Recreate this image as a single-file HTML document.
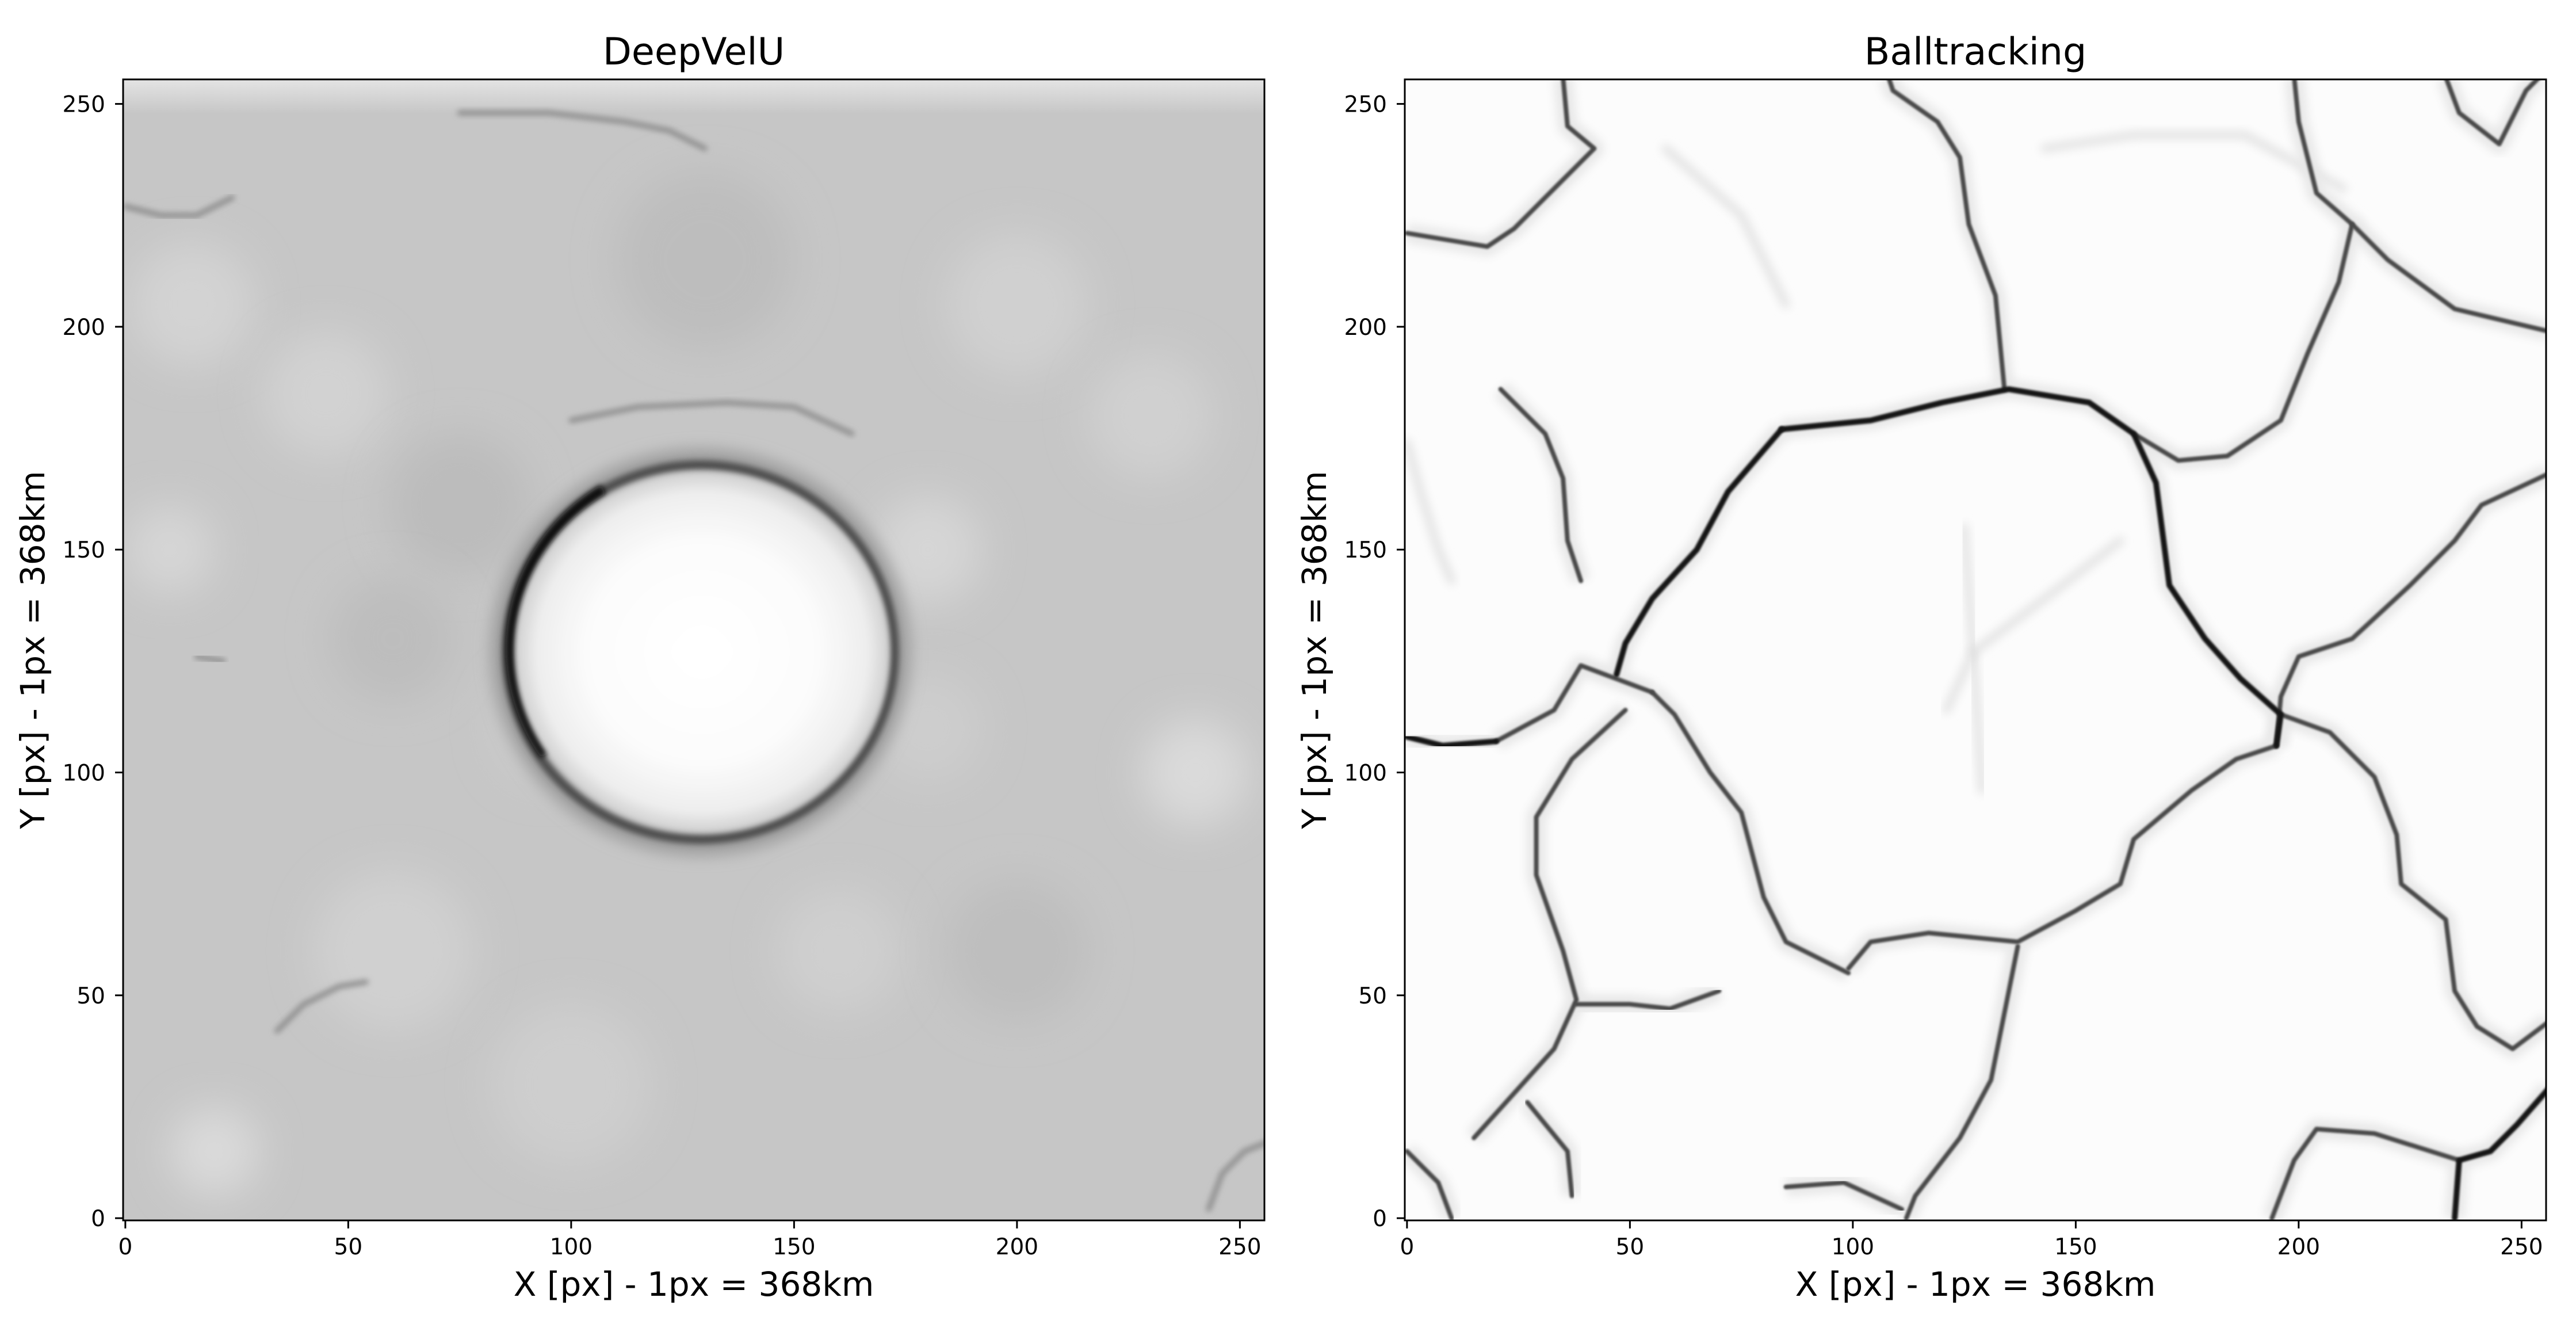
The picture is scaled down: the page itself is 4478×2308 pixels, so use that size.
<!DOCTYPE html>
<html><head><meta charset="utf-8">
<style>
html,body{margin:0;padding:0;background:#fff;}
svg{display:block;font-family:"DejaVu Sans","Liberation Sans",sans-serif;}
</style></head>
<body>
<svg id="fig" width="4478" height="2308" viewBox="0 0 4478 2308" xmlns="http://www.w3.org/2000/svg">
<defs>
<filter id="blur8" x="-20%" y="-20%" width="140%" height="140%"><feGaussianBlur stdDeviation="8"/></filter>
<filter id="blur5" x="-20%" y="-20%" width="140%" height="140%"><feGaussianBlur stdDeviation="5"/></filter>
<filter id="blur2" x="-5%" y="-5%" width="110%" height="110%"><feGaussianBlur stdDeviation="1.8"/></filter>
<filter id="blur14" x="-10%" y="-10%" width="120%" height="120%"><feGaussianBlur stdDeviation="14"/></filter>
<filter id="blur40" x="-50%" y="-50%" width="200%" height="200%"><feGaussianBlur stdDeviation="35"/></filter>
<radialGradient id="disk" cx="50%" cy="50%" r="50%">
<stop offset="0" stop-color="#ffffff"/><stop offset="0.6" stop-color="#fcfcfc"/><stop offset="0.88" stop-color="#eeeeee"/><stop offset="1" stop-color="#d0d0d0"/>
</radialGradient>
<linearGradient id="topband" x1="0" y1="0" x2="0" y2="1">
<stop offset="0" stop-color="#e4e4e4"/><stop offset="1" stop-color="#e4e4e4" stop-opacity="0"/>
</linearGradient>
<clipPath id="clipL"><rect x="214" y="138" width="1984" height="1983"/></clipPath>
<clipPath id="clipR"><rect x="2442" y="138" width="1984" height="1983"/></clipPath>
</defs>
<g id="root"></g>
</svg>
<script>
// axis tick values
const xTicks = [0, 50, 100, 150, 200, 250];
const yTicks = [0, 50, 100, 150, 200, 250];
// DeepVelU: bright disk feature (data units)
const diskCenter = [129, 127];
const diskRadii = [43.5, 42];
// DeepVelU: thin dark ridges (data units)
const ridges = [
  [[0,227],[8,225],[16,225],[24,229]],
  [[75,248],[95,248],[112,246],[122,244],[130,240]],
  [[100,179],[115,182],[135,183],[150,182],[163,176]],
  [[34,42],[40,48],[48,52],[54,53]],
  [[243,2],[246,10],[251,15],[256,17]],
  [[16,126],[22,125]]
];
// Balltracking: cell boundary lanes (data units, [x,y] vertices)
const laneDark = [
  [[84,177],[104,179],[120,183],[135,186],[153,183],[163,176],[168,165],[171,142],[179,130],[187,121],[196,113],[195,106]],
  [[84,177],[72,163],[65,150],[55,139],[49,129],[47,122]],
  [[0,108],[8,106],[20,107]],
  [[256,29],[249,21],[243,15],[236,13],[235,0]]
];
const laneMid = [
  [[195,106],[186,103],[176,96],[163,85],[160,75],[150,69],[137,62],[117,64],[104,62],[99,56]],
  [[55,118],[60,113],[68,100],[75,91],[80,72],[85,62],[99,55]],
  [[20,107],[33,114],[39,124],[47,121],[55,118]],
  [[49,114],[37,103],[29,90],[29,77],[35,60],[38,49],[33,38],[24,28],[15,18]],
  [[38,48],[50,48],[59,47],[70,51]],
  [[137,61],[133,41],[131,31],[124,18],[114,5],[112,0]],
  [[85,7],[98,8],[111,2]],
  [[35,256],[36,245],[42,240],[34,232],[24,222],[18,218],[0,221]],
  [[108,256],[109,253],[119,246],[124,238],[126,223],[132,207],[134,186]],
  [[199,256],[200,246],[204,230],[212,223],[209,210],[202,194],[196,179],[184,171],[173,170],[163,176]],
  [[212,223],[220,215],[235,204],[256,199]],
  [[233,256],[236,248],[245,241],[251,253],[254,256]],
  [[256,167],[241,160],[235,152],[225,142],[212,130],[200,126],[196,117],[195,106]],
  [[196,113],[207,109],[217,99],[222,86],[223,75],[233,67],[235,51],[240,43],[248,38],[256,44]],
  [[236,13],[217,19],[204,20],[199,13],[194,0]],
  [[0,15],[7,8],[10,0]],
  [[27,26],[36,15],[37,5]],
  [[21,186],[31,176],[35,166],[36,152],[39,143]]
];
const laneFaint = [
  [[0,174],[3,163],[7,150],[10,143]],
  [[143,240],[163,243],[188,243],[210,231]],
  [[127,127],[147,142],[160,152]],
  [[127,127],[125,155]],
  [[127,127],[129,96]],
  [[127,127],[121,114]],
  [[58,240],[75,225],[85,205]]
];

const NS = "http://www.w3.org/2000/svg";
const root = document.getElementById('root');
const panels = [{x0:214, title:"DeepVelU", key:"deepvelu"},{x0:2442, title:"Balltracking", key:"balltracking"}];
const PW = 1984, PT = 138, PB = 2121;
function sx(p, v){ return p.x0 + (v + 0.5) / 256 * PW; }
function sy(v){ return PB - (v + 0.5) / 256 * (PB - PT); }
function mk(tag, attrs, parent){ const e = document.createElementNS(NS, tag); for (const k in attrs) e.setAttribute(k, attrs[k]); (parent||root).appendChild(e); return e; }
function pathD(p, pts){ return pts.map((q,i)=>(i?'L':'M')+sx(p,q[0]).toFixed(1)+' '+sy(q[1]).toFixed(1)).join(' '); }

// Left panel image
(function(){
  const p = panels[0];
  const g = mk('g', {'clip-path':'url(#clipL)'});
  
  
  mk('rect', {x:p.x0, y:PT, width:PW, height:PB-PT, fill:'#c6c6c6'}, g);
  const blobs = [[15,205,'#d3d3d3',14],[45,185,'#d2d2d2',14],[75,160,'#bcbcbc',16],[200,205,'#d0d0d0',16],[230,180,'#d0d0d0',14],[60,60,'#d0d0d0',18],[240,100,'#dadada',12],[20,15,'#dadada',10],[180,150,'#d6d6d6',12],[100,30,'#cecece',18],[160,60,'#cfcfcf',14],[130,215,'#bdbdbd',20],[60,130,'#bdbdbd',14],[10,150,'#d6d6d6',10],[200,60,'#bebebe',16],[95,110,'#cccccc',12],[180,110,'#cdcdcd',12]];
  blobs.forEach(b=>{ mk('circle',{cx:sx(p,b[0]), cy:sy(b[1]), r:b[3]*7.75, fill:b[2], filter:'url(#blur40)'}, g); });
  mk('rect', {x:p.x0, y:PT, width:PW, height:60, fill:'url(#topband)'}, g);
  ridges.forEach(f=>{ const e = mk('path',{d:pathD(p,f), fill:'none', stroke:'#8c8c8c', 'stroke-width':9, 'stroke-linecap':'round', filter:'url(#blur5)'}, g);   });
  const cx = sx(p, diskCenter[0]), cy = sy(diskCenter[1]);
  const rx = diskRadii[0]*PW/256, ry = diskRadii[1]*(PB-PT)/256;
  mk('ellipse', {cx:cx, cy:cy, rx:rx+4, ry:ry+4, fill:'none', stroke:'#9a9a9a', 'stroke-width':45, filter:'url(#blur14)'}, g);
  mk('ellipse', {cx:cx, cy:cy, rx:rx, ry:ry, fill:'none', stroke:'#4e4e4e', 'stroke-width':16, filter:'url(#blur5)'}, g);
  mk('path', {d:`M ${cx-rx*0.5} ${cy-ry*0.87} A ${rx} ${ry} 0 0 0 ${cx-rx*0.8} ${cy+ry*0.55}`, fill:'none', stroke:'#0a0a0a', 'stroke-width':18, filter:'url(#blur5)'}, g);
  const d = mk('ellipse', {cx:cx+3, cy:cy, rx:rx-12, ry:ry-12, fill:'url(#disk)', filter:'url(#blur5)'}, g);
  
  
})();

// Right panel image
(function(){
  const p = panels[1];
  const g = mk('g', {'clip-path':'url(#clipR)'});
  
  
  mk('rect', {x:p.x0, y:PT, width:PW, height:PB-PT, fill:'#fcfcfc'}, g);
  laneFaint.forEach(l=>{ const e = mk('path',{d:pathD(p,l), fill:'none', stroke:'#e2e2e2', 'stroke-width':14, 'stroke-linecap':'round', filter:'url(#blur8)'}, g);   });
  laneMid.concat(laneDark).forEach(l=>{
    mk('path',{d:pathD(p,l), fill:'none', stroke:'#e8e8e8', 'stroke-width':34, 'stroke-linejoin':'round', filter:'url(#blur8)'}, g);
  });
  laneMid.forEach(l=>{
    const e = mk('path',{d:pathD(p,l), fill:'none', stroke:'#4a4a4a', 'stroke-width':8, 'stroke-linejoin':'round', 'stroke-linecap':'round', filter:'url(#blur2)'}, g);
     
  });
  laneDark.forEach(l=>{
    const e = mk('path',{d:pathD(p,l), fill:'none', stroke:'#151515', 'stroke-width':10, 'stroke-linejoin':'round', 'stroke-linecap':'round', filter:'url(#blur2)'}, g);
     
  });
})();

// Axes, ticks, labels
panels.forEach(p=>{
  const ax = mk('g', {});
  
  
  mk('rect', {x:p.x0, y:PT, width:PW, height:PB-PT, fill:'none', stroke:'#000', 'stroke-width':3}, ax);
  xTicks.forEach(t=>{
    const x = sx(p, t);
    mk('line', {x1:x, y1:PB, x2:x, y2:PB+14, stroke:'#000', 'stroke-width':3}, ax);
    const tx = mk('text', {x:x, y:2180, 'font-size':39, 'text-anchor':'middle', fill:'#000'}, ax);
    tx.textContent = t;
    
    
  });
  yTicks.forEach(t=>{
    const y = sy(t);
    mk('line', {x1:p.x0-14, y1:y, x2:p.x0, y2:y, stroke:'#000', 'stroke-width':3}, ax);
    const tx = mk('text', {x:p.x0-31, y:y+14, 'font-size':39, 'text-anchor':'end', fill:'#000'}, ax);
    tx.textContent = t;
    
    
  });
  const ttl = mk('text', {x:p.x0+PW/2, y:112, 'font-size':65, 'text-anchor':'middle', fill:'#000'}, ax);
  ttl.textContent = p.title;
  
  
  const xl = mk('text', {x:p.x0+PW/2, y:2252, 'font-size':58, 'text-anchor':'middle', fill:'#000'}, ax);
  xl.textContent = 'X [px] - 1px = 368km';
  
  
  const yx = p.x0 - 137, yy = (PT+PB)/2;
  const yl = mk('text', {x:yx, y:yy, 'font-size':58, 'text-anchor':'middle', fill:'#000', transform:`rotate(-90 ${yx} ${yy})`}, ax);
  yl.textContent = 'Y [px] - 1px = 368km';
  
  
});
</script>
</body></html>
